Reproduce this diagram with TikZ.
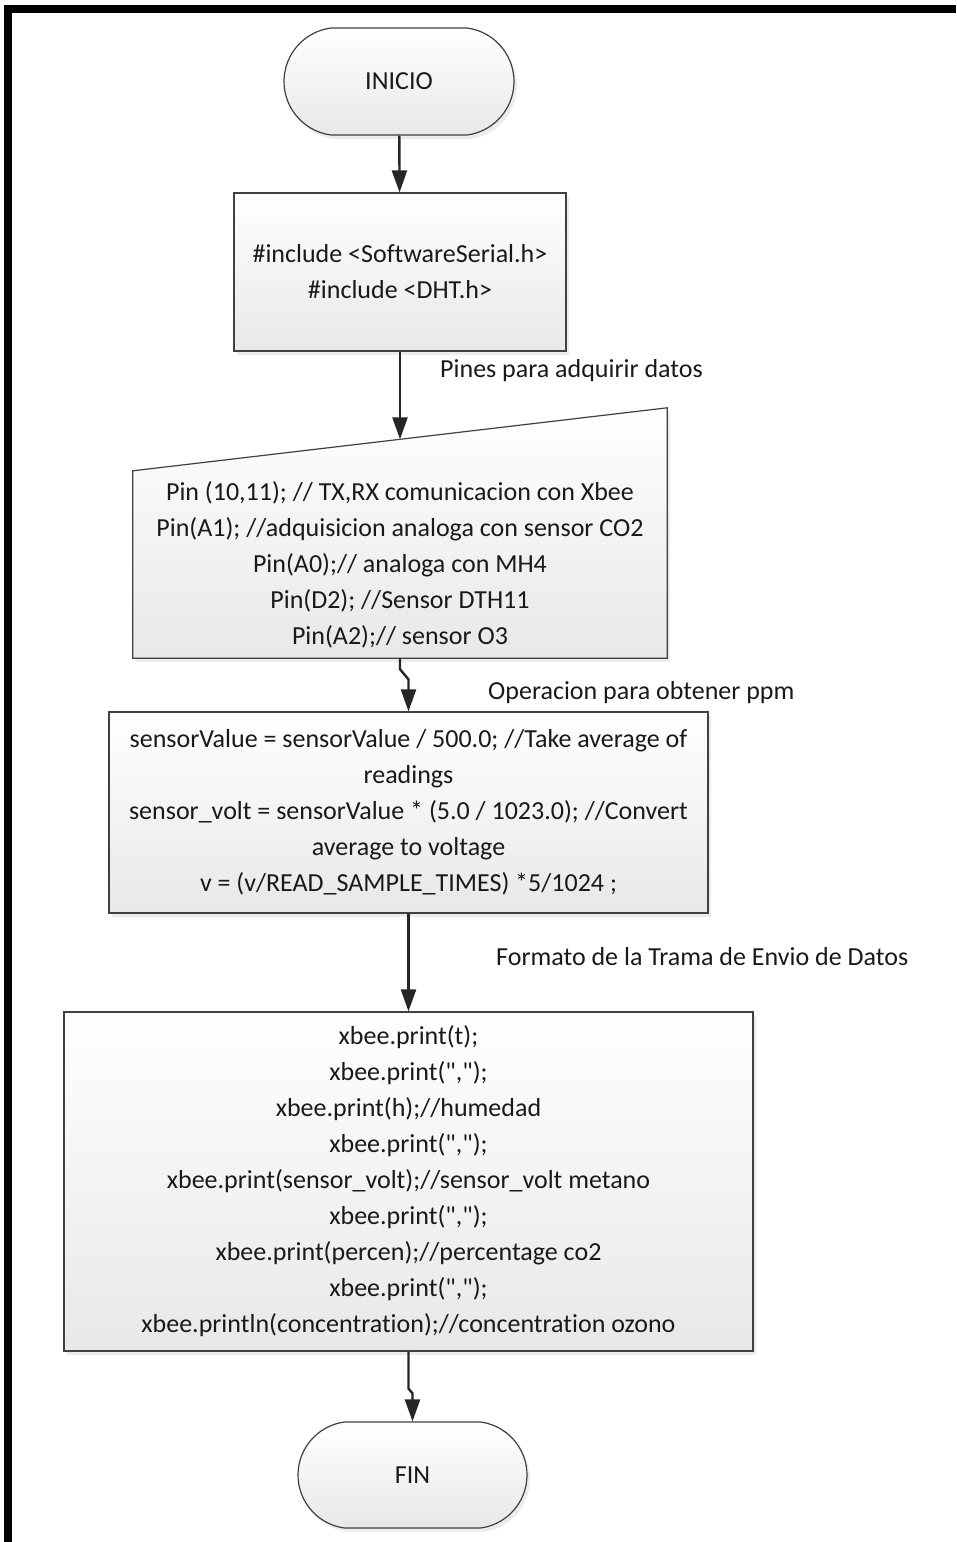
\documentclass[tikz,border=0pt]{standalone}
\usepackage{fontspec}
\setmainfont{Carlito}[Ligatures={TeXOff,NoCommon}]
\usetikzlibrary{arrows.meta,shapes.misc,shadows,calc,backgrounds}

\begin{document}
\begin{tikzpicture}[x=1pt,y=-1pt,
	texto/.style={font=\fontsize{26}{36}\selectfont, text=black!90},
	caja/.style={texto, draw=black!75, line width=1.2pt, top color=white, bottom color=black!9,
		drop shadow={opacity=0.15, shadow xshift=3pt, shadow yshift=-4pt}, inner sep=0pt, align=center},
	terminal/.style={caja, rounded rectangle, rounded rectangle arc length=165,
		minimum width=230pt, minimum height=107pt},
	flecha/.style={line width=2.4pt, black!85, -{Triangle[length=22pt,width=15pt]}},
	etiqueta/.style={texto, anchor=west, inner sep=0pt}]
\useasboundingbox (0,0) rectangle (956,1542);
% marco
\draw[line width=8pt] (8,1542) -- (8,9) -- (956,9);

\node[terminal] (inicio) at (399,81.5) {INICIO};
\node[caja, minimum width=332pt, minimum height=158pt] (incl) at (400,272)
	{\#include <SoftwareSerial.h>\\ \#include <DHT.h>};

% entrada manual
\node[texto, minimum width=534pt, minimum height=187pt, inner sep=0pt, align=center] (pin) at (400,564.5)
	{Pin (10,11); // TX,RX comunicacion con Xbee\\
	 Pin(A1); //adquisicion analoga con sensor CO2\\
	 Pin(A0);// analoga con MH4\\
	 Pin(D2); //Sensor DTH11\\
	 Pin(A2);// sensor O3};
\begin{scope}[on background layer]
	\path[caja] (pin.south west) -- (pin.north west) -- ([yshift=63pt]pin.north east) -- (pin.south east) -- cycle;
\end{scope}
\coordinate (pinTop) at ($(pin.north)+(0,-31.5)$);

\node[caja, minimum width=599pt, minimum height=201pt] (sens) at (408.5,812.5)
	{sensorValue = sensorValue / 500.0; //Take average of\\
	 readings\\
	 sensor\_volt = sensorValue * (5.0 / 1023.0); //Convert\\
	 average to voltage\\
	 v = (v/READ\_SAMPLE\_TIMES) *5/1024 ;};

\node[caja, minimum width=689pt, minimum height=339pt] (xbee) at (408.5,1181.5)
	{xbee.print(t);\\
	 xbee.print(",");\\
	 xbee.print(h);//humedad\\
	 xbee.print(",");\\
	 xbee.print(sensor\_volt);//sensor\_volt metano\\
	 xbee.print(",");\\
	 xbee.print(percen);//percentage co2\\
	 xbee.print(",");\\
	 xbee.println(concentration);//concentration ozono};

\node[terminal, minimum width=229pt, minimum height=106pt] (fin) at (412.5,1475) {FIN};

% etiquetas
\node[etiqueta] (lblPines) at (440,371) {Pines para adquirir datos};
\node[etiqueta] (lblOper) at (488,693) {Operacion para obtener ppm};
\node[etiqueta] (lblTrama) at (496,957) {Formato de la Trama de Envio de Datos};

% conectores
\draw[flecha] (inicio) -- (incl);
\draw[flecha] (incl.south) -- (pinTop);
\draw[flecha] (pin.south) -- ++(0,11) -- ($(sens.north)+(0,-32)$) -- (sens.north);
\draw[flecha] (sens) -- (xbee);
\draw[flecha] (xbee.south) -- ++(0,37) -- ($(fin.north)+(0,-28)$) -- (fin.north);
\end{tikzpicture}
\end{document}
